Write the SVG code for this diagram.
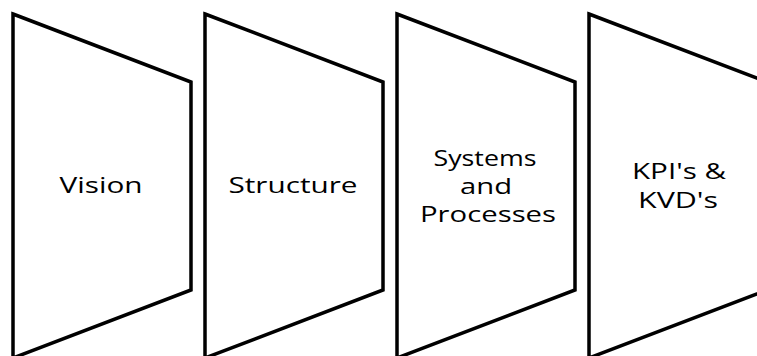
<svg xmlns="http://www.w3.org/2000/svg" width="757" height="356" viewBox="0 0 757 356">
<style>
.s{fill:#fff;stroke:#000;stroke-width:3.5;stroke-linejoin:miter}
.t{font-family:"Open Sans","DejaVu Sans",sans-serif;font-size:22px;fill:#000;text-anchor:middle}
</style>
<rect width="757" height="356" fill="#fff"/>
<g id="n1"><polygon class="s" points="13,14 191,82 191,290 13,358"/><text class="t" x="101" y="193" textLength="83" lengthAdjust="spacingAndGlyphs">Vision</text></g>
<g id="n2"><polygon class="s" points="205,14 383,82 383,290 205,358"/><text class="t" x="293" y="193" textLength="129" lengthAdjust="spacingAndGlyphs">Structure</text></g>
<g id="n3"><polygon class="s" points="397,14 575,82 575,290 397,358"/><text class="t" x="485" y="166" textLength="103" lengthAdjust="spacingAndGlyphs">Systems</text><text class="t" x="486" y="194" textLength="52" lengthAdjust="spacingAndGlyphs">and</text><text class="t" x="488" y="222" textLength="136" lengthAdjust="spacingAndGlyphs">Processes</text></g>
<g id="n4"><polygon class="s" points="589,14 767,82 767,290 589,358"/><text class="t" x="679" y="179" textLength="94" lengthAdjust="spacingAndGlyphs">KPI's &amp;</text><text class="t" x="678" y="208" textLength="80" lengthAdjust="spacingAndGlyphs">KVD's</text></g>
<g id="connectors"/>
</svg>
